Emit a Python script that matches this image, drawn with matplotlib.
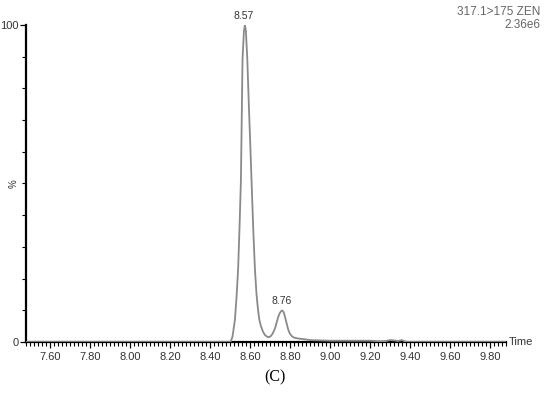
import matplotlib.pyplot as plt
from matplotlib.ticker import MultipleLocator

# Chromatogram trace (time in min, relative intensity in %)
times = [7.48, 8.40, 8.50, 8.505, 8.513, 8.525, 8.533, 8.541, 8.548, 8.555, 8.559,
         8.563, 8.57, 8.575, 8.58, 8.587, 8.595, 8.602, 8.608, 8.617, 8.625, 8.633,
         8.64, 8.647, 8.655, 8.665, 8.675, 8.685, 8.695, 8.705, 8.713, 8.72, 8.728,
         8.735, 8.742, 8.75, 8.757, 8.763, 8.77, 8.777, 8.785, 8.792, 8.80, 8.81,
         8.82, 8.84, 8.87, 8.90, 9.00, 9.10, 9.20, 9.25, 9.28, 9.30, 9.32, 9.34,
         9.36, 9.37, 9.38, 9.40, 9.60, 9.88]
intensity = [0, 0, 0, 0.3, 1.7, 7, 14, 23, 36, 51, 70,
             89, 98, 100, 98, 89, 74, 62, 51, 35, 23, 15,
             10.5, 7, 5, 3.3, 2.2, 1.7, 1.5, 1.9, 2.6, 3.5, 4.8,
             6.5, 8, 9.2, 9.8, 9.9, 9.2, 7.5, 5.5, 3.8, 2.6, 1.8,
             1.4, 1.1, 0.9, 0.6, 0.4, 0.4, 0.4, 0.2, 0.3, 0.6, 0.5, 0.3,
             0.6, 0.3, 0.1, 0, 0, 0]

peak_times = [8.57, 8.76]
peak_heights = [100, 9.9]
peak_labels = ['8.57', '8.76']

x_ticks = [7.60, 7.80, 8.00, 8.20, 8.40, 8.60, 8.80, 9.00, 9.20, 9.40, 9.60, 9.80]

fig = plt.figure(figsize=(5.5, 3.94), dpi=100)
ax = fig.add_axes([0.047, 0.132, 0.873, 0.805])

ax.plot(times, intensity, color='#8a8a8a', lw=1.3, zorder=3)

for t, h, lab in zip(peak_times, peak_heights, peak_labels):
    ax.annotate(lab, (t, h), xytext=(0, 3), textcoords='offset points',
                ha='center', va='bottom', fontsize=7.5, color='#333333',
                family='Liberation Sans')

ax.set_xlim(7.48, 9.88)
ax.set_ylim(0, 100)

for s in ['top', 'right']:
    ax.spines[s].set_visible(False)
ax.spines['left'].set_linewidth(1.6)
ax.spines['bottom'].set_linewidth(1.6)

ax.set_xticks(x_ticks)
ax.set_xticklabels(['%.2f' % v for v in x_ticks])
ax.xaxis.set_minor_locator(MultipleLocator(0.02))
ax.set_yticks([0, 100])
ax.yaxis.set_minor_locator(MultipleLocator(10))
ax.tick_params(axis='both', which='major', labelsize=8, labelcolor='#333333',
               length=4, width=0.9)
ax.tick_params(axis='both', which='minor', length=3, width=0.8)
for lbl in ax.get_xticklabels() + ax.get_yticklabels():
    lbl.set_family('Liberation Sans')
ax.tick_params(axis='y', pad=1)

ax.text(-0.025, 0.5, '%', transform=ax.transAxes, rotation=90, ha='center',
        va='center', fontsize=7, color='#333333', family='Liberation Sans')
ax.text(1.005, 0.0, 'Time', transform=ax.transAxes, ha='left', va='center',
        fontsize=8, color='#333333', family='Liberation Sans')

fig.text(0.982, 0.97, '317.1>175 ZEN', ha='right', va='center', fontsize=8.5,
         color='#666666', family='Liberation Sans')
fig.text(0.982, 0.936, '2.36e6', ha='right', va='center', fontsize=8.5,
         color='#666666', family='Liberation Sans')
fig.text(0.5, 0.043, '(C)', ha='center', va='center', fontsize=11.5,
         color='black', family='Liberation Serif')

fig.savefig('out.png', dpi=100)
